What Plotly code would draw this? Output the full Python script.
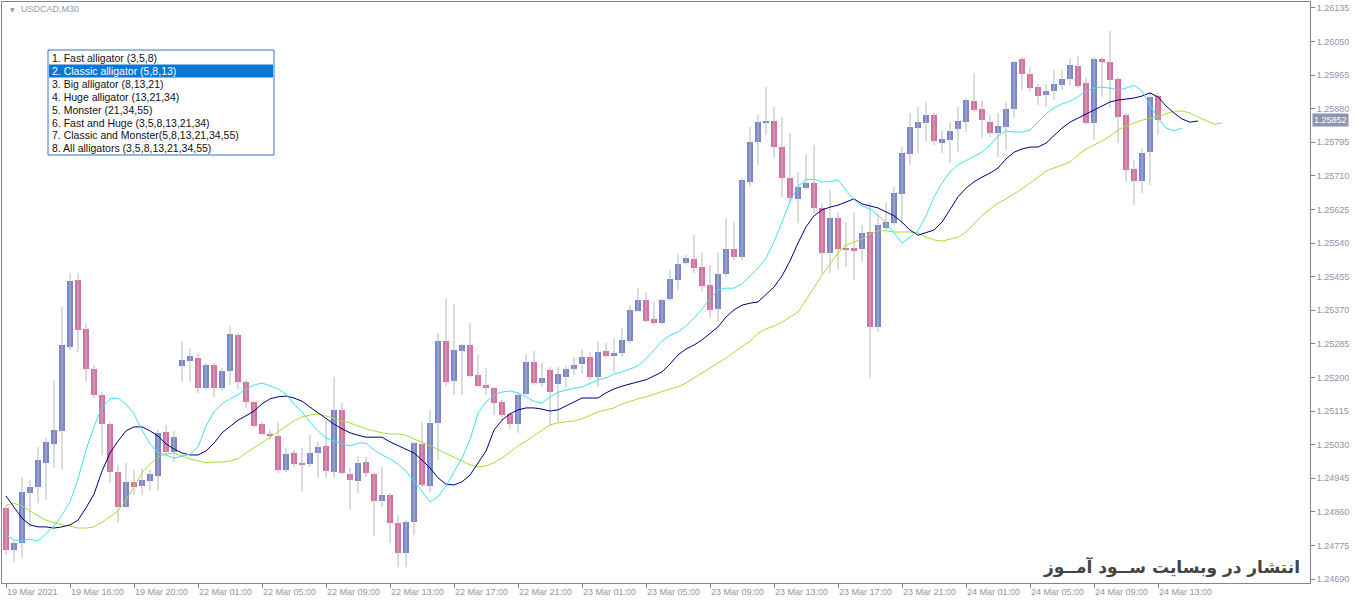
import plotly.graph_objects as go

tick_labels = ['19 Mar 2021', '19 Mar 16:00', '19 Mar 20:00', '22 Mar 01:00', '22 Mar 05:00',
               '22 Mar 09:00', '22 Mar 13:00', '22 Mar 17:00', '22 Mar 21:00', '23 Mar 01:00',
               '23 Mar 05:00', '23 Mar 09:00', '23 Mar 13:00', '23 Mar 17:00', '23 Mar 21:00',
               '24 Mar 01:00', '24 Mar 05:00', '24 Mar 09:00', '24 Mar 13:00']
tick_bars = [0, 8, 16, 24, 32, 40, 48, 56, 64, 72, 80, 88, 96, 104, 112, 120, 128, 136, 144]

price_ticks = [1.26135, 1.26050, 1.25965, 1.25880, 1.25795, 1.25710, 1.25625, 1.25540, 1.25455,
               1.25370, 1.25285, 1.25200, 1.25115, 1.25030, 1.24945, 1.24860, 1.24775, 1.24690]

opens = [1.24870,1.24764,1.24781,1.24908,1.24923,1.24984,1.25032,1.25065,1.25277,1.25447,
1.25323,1.25221,1.25156,1.25082,1.24961,1.24872,1.24936,1.24925,1.24938,1.24951,
1.25062,1.25011,1.25229,1.25242,1.25249,1.25173,1.25232,1.25173,1.25216,1.25307,
1.25189,1.25138,1.25082,1.25057,1.25052,1.24966,1.25009,1.24984,1.24981,1.25009,
1.25027,1.24961,1.25118,1.24956,1.24938,1.24986,1.24956,1.24888,1.24903,1.24832,
1.24756,1.24834,1.25032,1.24925,1.25085,1.25292,1.25191,1.25267,1.25282,1.25206,
1.25181,1.25173,1.25138,1.25108,1.25082,1.25158,1.25239,1.25186,1.25219,1.25184,
1.25201,1.25221,1.25234,1.25252,1.25201,1.25267,1.25254,1.25262,1.25292,1.25368,
1.25396,1.25348,1.25338,1.25398,1.25447,1.25490,1.25500,1.25479,1.25434,1.25373,
1.25462,1.25525,1.25505,1.25695,1.25796,1.25844,1.25849,1.25783,1.25705,1.25652,
1.25679,1.25692,1.25629,1.25515,1.25603,1.25528,1.25528,1.25525,1.25568,1.25328,
1.25578,1.25591,1.25664,1.25765,1.25831,1.25844,1.25864,1.25793,1.25801,1.25829,
1.25846,1.25899,1.25879,1.25846,1.25819,1.25834,1.25879,1.26006,1.25968,1.25935,
1.25915,1.25925,1.25940,1.25955,1.25988,1.25945,1.25844,1.26006,1.25998,1.25955,
1.25864,1.25727,1.25697,1.25770,1.25912]

highs = [1.24877,1.24786,1.24946,1.24941,1.25024,1.25047,1.25194,1.25378,1.25464,1.25464,
1.25338,1.25232,1.25163,1.25087,1.24979,1.24984,1.24966,1.24971,1.24966,1.25067,
1.25080,1.25065,1.25290,1.25275,1.25262,1.25237,1.25237,1.25224,1.25330,1.25312,
1.25194,1.25140,1.25087,1.25067,1.25087,1.25022,1.25017,1.25022,1.25054,1.25037,
1.25092,1.25201,1.25135,1.24971,1.25001,1.24999,1.24961,1.24974,1.24908,1.24852,
1.24839,1.25037,1.25087,1.25118,1.25312,1.25401,1.25386,1.25285,1.25338,1.25259,
1.25224,1.25176,1.25143,1.25110,1.25161,1.25259,1.25267,1.25237,1.25227,1.25227,
1.25229,1.25252,1.25270,1.25264,1.25290,1.25287,1.25300,1.25325,1.25383,1.25426,
1.25416,1.25391,1.25398,1.25472,1.25512,1.25510,1.25560,1.25517,1.25485,1.25517,
1.25603,1.25593,1.25705,1.25834,1.25864,1.25935,1.25884,1.25859,1.25819,1.25720,
1.25765,1.25788,1.25641,1.25674,1.25619,1.25593,1.25619,1.25586,1.25644,1.25611,
1.25644,1.25682,1.25783,1.25869,1.25884,1.25897,1.25869,1.25826,1.25846,1.25884,
1.25907,1.25970,1.25902,1.25864,1.25869,1.25897,1.26001,1.26011,1.25985,1.25942,
1.25942,1.25978,1.25978,1.26008,1.26013,1.25958,1.26011,1.26011,1.26077,1.25960,
1.25869,1.25750,1.25781,1.25920,1.25920]

lows = [1.24751,1.24733,1.24743,1.24822,1.24882,1.24890,1.24971,1.24966,1.25270,1.25264,
1.25189,1.25148,1.25004,1.24933,1.24834,1.24870,1.24903,1.24903,1.24915,1.24915,
1.25004,1.24986,1.25189,1.25189,1.25161,1.25168,1.25151,1.25166,1.25181,1.25171,
1.25123,1.25072,1.25054,1.25042,1.24958,1.24961,1.24971,1.24910,1.24974,1.24946,
1.24946,1.24946,1.24956,1.24865,1.24908,1.24948,1.24799,1.24872,1.24781,1.24720,
1.24720,1.24801,1.24923,1.24910,1.24991,1.25178,1.25156,1.25156,1.25201,1.25176,
1.25156,1.25105,1.25092,1.25070,1.25060,1.25156,1.25181,1.25176,1.25077,1.25087,
1.25176,1.25206,1.25211,1.25194,1.25176,1.25249,1.25214,1.25252,1.25287,1.25366,
1.25340,1.25333,1.25335,1.25394,1.25421,1.25485,1.25464,1.25416,1.25350,1.25340,
1.25454,1.25497,1.25497,1.25684,1.25738,1.25813,1.25755,1.25657,1.25644,1.25591,
1.25674,1.25616,1.25464,1.25464,1.25472,1.25479,1.25447,1.25492,1.25199,1.25315,
1.25573,1.25586,1.25586,1.25738,1.25768,1.25796,1.25788,1.25768,1.25743,1.25770,
1.25821,1.25872,1.25806,1.25808,1.25758,1.25775,1.25856,1.25927,1.25922,1.25889,
1.25884,1.25902,1.25927,1.25940,1.25932,1.25839,1.25801,1.25910,1.25882,1.25793,
1.25695,1.25636,1.25667,1.25687,1.25813]

closes = [1.24764,1.24781,1.24910,1.24923,1.24991,1.25037,1.25067,1.25282,1.25444,1.25320,
1.25221,1.25156,1.25082,1.24961,1.24872,1.24936,1.24923,1.24941,1.24956,1.25060,
1.25011,1.25049,1.25244,1.25254,1.25173,1.25232,1.25173,1.25216,1.25310,1.25189,
1.25138,1.25077,1.25057,1.25052,1.24966,1.25006,1.24981,1.24981,1.25009,1.25024,
1.24963,1.25118,1.24958,1.24941,1.24984,1.24958,1.24888,1.24903,1.24832,1.24756,
1.24834,1.25034,1.24928,1.25085,1.25292,1.25189,1.25270,1.25282,1.25204,1.25178,
1.25173,1.25135,1.25105,1.25082,1.25156,1.25239,1.25186,1.25199,1.25163,1.25209,
1.25221,1.25232,1.25252,1.25201,1.25264,1.25254,1.25262,1.25295,1.25371,1.25396,
1.25343,1.25338,1.25396,1.25449,1.25487,1.25502,1.25477,1.25431,1.25371,1.25462,
1.25525,1.25505,1.25700,1.25796,1.25846,1.25849,1.25783,1.25705,1.25654,1.25682,
1.25692,1.25629,1.25515,1.25603,1.25525,1.25522,1.25520,1.25566,1.25328,1.25586,
1.25593,1.25667,1.25768,1.25834,1.25846,1.25864,1.25798,1.25803,1.25824,1.25849,
1.25902,1.25877,1.25851,1.25819,1.25836,1.25879,1.25998,1.25968,1.25932,1.25912,
1.25925,1.25942,1.25955,1.25991,1.25937,1.25844,1.26006,1.25998,1.25953,1.25859,
1.25725,1.25697,1.25768,1.25910,1.25852]

# Alligator (5,8,13) lines, already shifted forward (lips 3, teeth 5, jaw 8 bars)
lips = [1.24801,1.24789,1.24786,1.24791,1.24786,1.24804,1.24824,1.24852,1.24885,1.24943,
1.25017,1.25075,1.25125,1.25146,1.25148,1.25133,1.25108,1.25067,1.25032,1.25011,
1.25004,1.24996,1.25001,1.25006,1.25024,1.25077,1.25113,1.25133,1.25146,1.25156,
1.25171,1.25181,1.25186,1.25178,1.25171,1.25158,1.25133,1.25113,1.25087,1.25065,
1.25047,1.25039,1.25032,1.25027,1.25034,1.25034,1.25017,1.25004,1.24994,1.24981,
1.24963,1.24938,1.24910,1.24885,1.24898,1.24925,1.24961,1.24996,1.25042,1.25110,
1.25138,1.25156,1.25163,1.25166,1.25161,1.25151,1.25140,1.25135,1.25151,1.25163,
1.25168,1.25173,1.25176,1.25184,1.25194,1.25199,1.25209,1.25214,1.25221,1.25229,
1.25247,1.25270,1.25292,1.25307,1.25315,1.25330,1.25350,1.25373,1.25399,1.25421,
1.25426,1.25426,1.25437,1.25457,1.25477,1.25502,1.25543,1.25593,1.25644,1.25684,
1.25700,1.25702,1.25695,1.25695,1.25700,1.25674,1.25649,1.25634,1.25626,1.25611,
1.25591,1.25566,1.25540,1.25555,1.25571,1.25609,1.25657,1.25692,1.25720,1.25738,
1.25748,1.25758,1.25770,1.25788,1.25811,1.25824,1.25821,1.25821,1.25826,1.25846,
1.25867,1.25882,1.25892,1.25899,1.25910,1.25925,1.25932,1.25935,1.25932,1.25927,
1.25932,1.25940,1.25925,1.25889,1.25856,1.25831,1.25824,1.25831]

teeth = [1.24900,1.24872,1.24844,1.24827,1.24822,1.24822,1.24819,1.24822,1.24827,1.24839,
1.24870,1.24905,1.24963,1.25009,1.25039,1.25065,1.25075,1.25075,1.25065,1.25052,
1.25032,1.25019,1.25009,1.25004,1.25004,1.25014,1.25034,1.25060,1.25077,1.25092,
1.25103,1.25115,1.25133,1.25146,1.25151,1.25153,1.25148,1.25140,1.25125,1.25110,
1.25095,1.25082,1.25070,1.25060,1.25054,1.25049,1.25049,1.25049,1.25037,1.25027,
1.25019,1.25009,1.24991,1.24971,1.24946,1.24930,1.24928,1.24936,1.24953,1.24984,
1.25014,1.25067,1.25092,1.25108,1.25118,1.25123,1.25123,1.25120,1.25115,1.25118,
1.25128,1.25140,1.25148,1.25148,1.25148,1.25161,1.25171,1.25178,1.25184,1.25189,
1.25194,1.25204,1.25214,1.25234,1.25257,1.25272,1.25282,1.25295,1.25312,1.25328,
1.25353,1.25371,1.25383,1.25388,1.25391,1.25409,1.25429,1.25457,1.25495,1.25540,
1.25581,1.25609,1.25624,1.25631,1.25636,1.25644,1.25652,1.25639,1.25634,1.25629,
1.25619,1.25609,1.25593,1.25573,1.25560,1.25566,1.25573,1.25593,1.25624,1.25657,
1.25679,1.25695,1.25707,1.25717,1.25730,1.25753,1.25770,1.25778,1.25783,1.25783,
1.25793,1.25811,1.25831,1.25846,1.25856,1.25867,1.25877,1.25887,1.25897,1.25902,
1.25905,1.25907,1.25912,1.25920,1.25910,1.25887,1.25869,1.25854,1.25846,1.25849]

jaw = [1.24877,1.24882,1.24875,1.24862,1.24850,1.24839,1.24832,1.24827,1.24824,1.24819,
1.24819,1.24822,1.24834,1.24847,1.24862,1.24890,1.24923,1.24958,1.24981,1.24999,
1.25006,1.25009,1.25001,1.24994,1.24989,1.24984,1.24986,1.24986,1.24989,1.24994,
1.25009,1.25022,1.25037,1.25049,1.25062,1.25077,1.25090,1.25100,1.25105,1.25108,
1.25103,1.25097,1.25090,1.25085,1.25077,1.25070,1.25065,1.25060,1.25057,1.25057,
1.25054,1.25044,1.25037,1.25027,1.25019,1.25009,1.24999,1.24989,1.24979,1.24974,
1.24976,1.24984,1.24996,1.25011,1.25027,1.25039,1.25052,1.25067,1.25080,1.25085,
1.25087,1.25090,1.25095,1.25105,1.25113,1.25118,1.25123,1.25133,1.25140,1.25146,
1.25151,1.25158,1.25163,1.25171,1.25176,1.25186,1.25199,1.25211,1.25224,1.25237,
1.25249,1.25264,1.25277,1.25292,1.25312,1.25323,1.25330,1.25340,1.25353,1.25366,
1.25396,1.25429,1.25459,1.25487,1.25515,1.25535,1.25543,1.25550,1.25563,1.25571,
1.25571,1.25568,1.25568,1.25568,1.25566,1.25555,1.25548,1.25545,1.25550,1.25555,
1.25568,1.25588,1.25609,1.25626,1.25641,1.25652,1.25664,1.25677,1.25692,1.25707,
1.25722,1.25730,1.25738,1.25745,1.25763,1.25778,1.25788,1.25798,1.25811,1.25826,
1.25836,1.25844,1.25851,1.25856,1.25859,1.25867,1.25874,1.25874,1.25869,1.25859,
1.25849,1.25841,1.25844]

menu_items = ['1. Fast alligator (3,5,8)', '2. Classic alligator (5,8,13)', '3. Big alligator (8,13,21)',
              '4. Huge alligator (13,21,34)', '5. Monster (21,34,55)', '6. Fast and Huge (3,5,8,13,21,34)',
              '7. Classic and Monster(5,8,13,21,34,55)', '8. All alligators (3,5,8,13,21,34,55)']
selected_item = 1
symbol_title = 'USDCAD,M30'
watermark = 'انتشار در وبسایت ســود آمــوز'
last_price = closes[-1]

# ---------- styling / geometry ----------
W, H = 1360, 604
ML, MR, MT, MB = 2, 50, 2, 21
PW, PH = W - ML - MR, H - MT - MB
BULL = '#7a86cc'
BEAR = '#d86fa0'
WICK = '#b9b9b9'
AXIS = '#7d8794'
LABEL = '#8f95a6'
FONT = 'Liberation Sans'


def px(xp):
    return (xp - ML) / PW


def py(yp):
    return (H - MB - yp) / PH


n = len(opens)
idx = list(range(n))

fig = go.Figure()

# wicks
wx, wy = [], []
for i in idx:
    wx += [i, i, None]
    wy += [lows[i], highs[i], None]
fig.add_trace(go.Scatter(x=wx, y=wy, mode='lines', line=dict(color=WICK, width=1),
                         hoverinfo='skip', showlegend=False))

# bodies
bases = [min(o, c) for o, c in zip(opens, closes)]
heights = [max(abs(c - o), 0.000025) for o, c in zip(opens, closes)]
colors = [BULL if c >= o else BEAR for o, c in zip(opens, closes)]
fig.add_trace(go.Bar(x=idx, y=heights, base=bases, width=0.75,
                     marker=dict(color=colors, line=dict(width=0)),
                     showlegend=False, hoverinfo='skip'))

fig.add_trace(go.Scatter(x=list(range(len(jaw))), y=jaw, mode='lines',
                         line=dict(color='#9ee23a', width=1), showlegend=False))
fig.add_trace(go.Scatter(x=list(range(len(teeth))), y=teeth, mode='lines',
                         line=dict(color='#00007a', width=1), showlegend=False))
fig.add_trace(go.Scatter(x=list(range(len(lips))), y=lips, mode='lines',
                         line=dict(color='#3fe0ee', width=1), showlegend=False))

shapes = []
annotations = []

# menu box
bx0, bx1, by0, by1 = 48, 274, 50, 155
shapes.append(dict(type='rect', xref='paper', yref='paper', x0=px(bx0), x1=px(bx1),
                   y0=py(by1), y1=py(by0), fillcolor='white',
                   line=dict(color='#2c79c9', width=1), layer='above'))
row_h = 12.9
first_row = 58
hy = first_row + selected_item * row_h
shapes.append(dict(type='rect', xref='paper', yref='paper', x0=px(bx0 + 1), x1=px(bx1 - 1),
                   y0=py(hy + 6.5), y1=py(hy - 6.5), fillcolor='#0a76d6',
                   line=dict(width=0), layer='above'))
for k, t in enumerate(menu_items):
    annotations.append(dict(xref='paper', yref='paper', x=px(50), y=py(first_row + k * row_h),
                            xanchor='left', yanchor='middle', showarrow=False, text=t,
                            font=dict(family=FONT, size=10.5,
                                      color='white' if k == selected_item else '#111111')))

# symbol title
annotations.append(dict(xref='paper', yref='paper', x=px(8), y=py(9), xanchor='left',
                        yanchor='middle', showarrow=False, text='▼',
                        font=dict(family='DejaVu Sans', size=6, color='#9a9a9a')))
annotations.append(dict(xref='paper', yref='paper', x=px(19), y=py(9), xanchor='left',
                        yanchor='middle', showarrow=False, text=symbol_title,
                        font=dict(family=FONT, size=9, color='#9a9a9a')))

# current price tag
annotations.append(dict(xref='paper', yref='y', x=1, y=last_price, xanchor='left',
                        yanchor='middle', xshift=2, showarrow=False,
                        text=f'{last_price:.5f}', bgcolor='#8d95b0', borderpad=1,
                        font=dict(family=FONT, size=9, color='white')))

# watermark
annotations.append(dict(xref='paper', yref='paper', x=px(1302), y=py(567), xanchor='right',
                        yanchor='middle', showarrow=False, text='<b>' + watermark + '</b>',
                        font=dict(family='DejaVu Sans', size=17, color='#444444')))

fig.update_layout(
    width=W, height=H,
    margin=dict(l=ML, r=MR, t=MT, b=MB, autoexpand=False),
    paper_bgcolor='white', plot_bgcolor='white',
    bargap=0, showlegend=False,
    shapes=shapes, annotations=annotations,
    xaxis=dict(range=[-0.5, 163], tickmode='array', tickvals=tick_bars, ticktext=tick_labels,
               ticks='outside', ticklen=4, tickcolor=AXIS, showgrid=False, zeroline=False,
               showline=True, linecolor=AXIS, linewidth=1, mirror=True,
               ticklabelposition='outside right',
               tickfont=dict(family=FONT, size=9, color=LABEL)),
    yaxis=dict(range=[1.24680, 1.26150], side='right', tickmode='array', tickvals=price_ticks,
               ticktext=[f'{v:.5f}' for v in price_ticks],
               ticks='outside', ticklen=4, tickcolor=AXIS, showgrid=False, zeroline=False,
               showline=True, linecolor=AXIS, linewidth=1, mirror=True,
               tickfont=dict(family=FONT, size=9, color=LABEL)),
)

fig.write_html('out.html', config={'displayModeBar': False},
               post_script="document.body.style.margin='0';document.body.style.overflow='hidden';")
